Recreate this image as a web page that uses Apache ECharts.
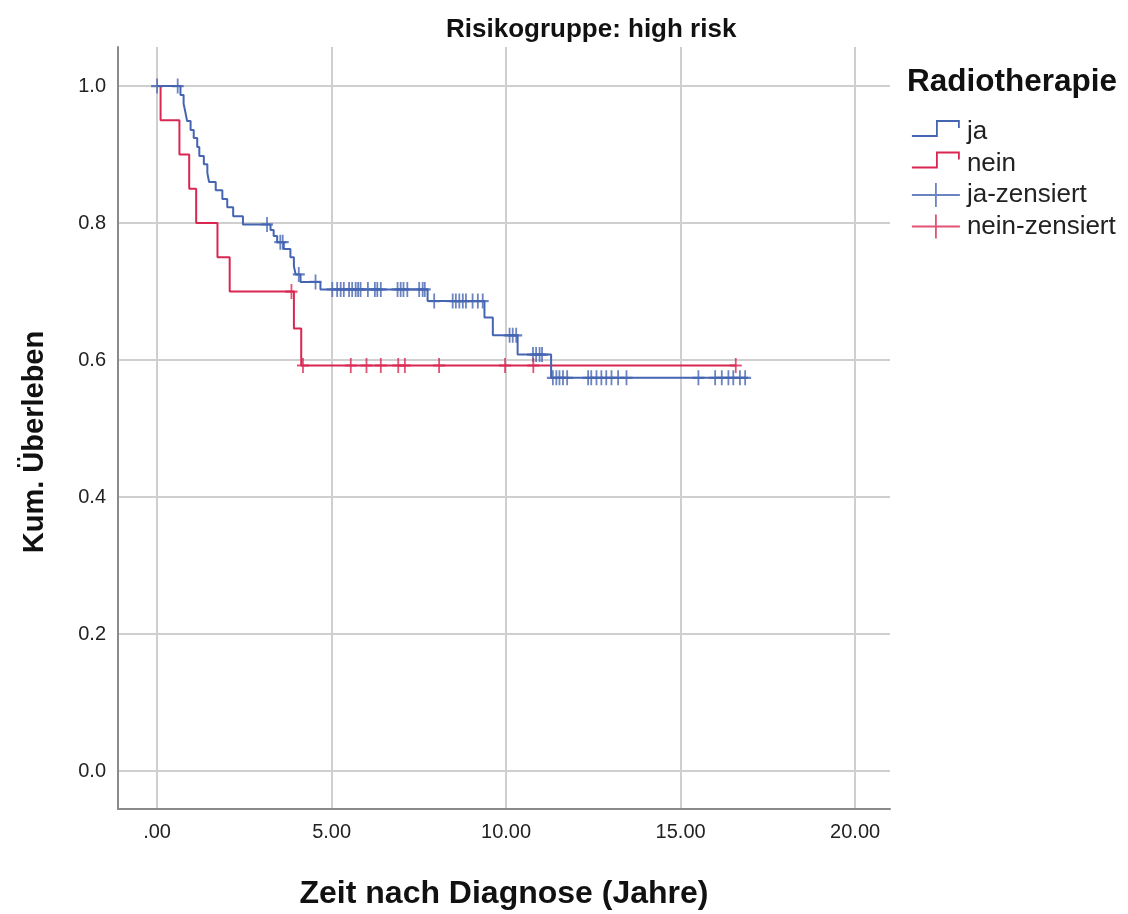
<!DOCTYPE html>
<html>
<head>
<meta charset="utf-8">
<script src="https://cdn.jsdelivr.net/npm/echarts@6/dist/echarts.min.js"></script>
<style>
  html, body { margin: 0; padding: 0; background: #fff; }
  #chart { width: 1128px; height: 914px; }
</style>
</head>
<body>
<div id="chart"></div>
<script>
// Kaplan-Meier estimates, high-risk group, split by radiotherapy (ja / nein)
const jaTime = [0, 0.67, 0.76, 0.81, 0.86, 0.96, 1.05, 1.15, 1.21, 1.34, 1.44, 1.49, 1.68, 1.87, 2.01, 2.18, 2.46,
  3.25, 3.34, 3.44, 3.63, 3.82, 3.92, 3.97, 4.11, 4.68, 7.75, 9.38, 9.62, 10.33, 11.29, 16.94];
const jaSurv = [1.0, 0.987, 0.974, 0.962, 0.949, 0.936, 0.924, 0.911, 0.898, 0.886, 0.873, 0.860, 0.848, 0.835, 0.823, 0.810, 0.798,
  0.790, 0.781, 0.772, 0.762, 0.750, 0.737, 0.725, 0.714, 0.703, 0.686, 0.662, 0.636, 0.608, 0.574, 0.574];

const neinTime = [0, 0.10, 0.64, 0.92, 1.12, 1.73, 2.08, 3.92, 4.13, 16.6];
const neinSurv = [1.0, 0.95, 0.90, 0.85, 0.80, 0.75, 0.70, 0.646, 0.592, 0.592];

// censoring times (marked with +)
const jaCensorTime = [0, 0.59, 3.15, 3.53, 3.60, 4.06, 4.54,
  5.02, 5.16, 5.26, 5.35, 5.50, 5.59, 5.69, 5.76, 5.83, 6.04, 6.24, 6.31, 6.41, 6.89, 6.98, 7.06, 7.17, 7.51, 7.61, 7.67,
  7.94, 8.47, 8.56, 8.66, 8.76, 8.85, 9.04, 9.19, 9.33,
  10.10, 10.19, 10.29, 10.77, 10.86, 10.96, 11.03,
  11.34, 11.44, 11.53, 11.63, 11.75, 12.35, 12.44, 12.59, 12.73, 12.87, 13.02, 13.21, 13.45,
  15.51, 15.99, 16.18, 16.37, 16.51, 16.70, 16.85];
const neinCensorTime = [3.85, 4.18, 5.55, 6.00, 6.41, 6.91, 7.10, 8.08, 9.97, 10.78, 16.58];

const xTicks = [0, 5, 10, 15, 20];
const yTicks = [0, 0.2, 0.4, 0.6, 0.8, 1.0];

const BLUE = '#4565b2';
const RED = '#d92752';
const PLUS = 'path://M0,10L20,10M10,0L10,20';
// legend glyphs: a small step and a censoring cross (box 50 x 24)
const STEP_ICON = 'path://M0,0M0,16L25,16L25,1L47,1L47,8M50,24';
const PLUS_ICON = 'path://M0,0M0,12L48,12M24,0L24,24M50,24';

function stepValue(times, surv, t) {
  let s = surv[0];
  for (let i = 0; i < times.length; i++) {
    if (times[i] <= t) s = surv[i];
  }
  return s;
}

const jaLine = jaTime.map((t, i) => [t, jaSurv[i]]);
const neinLine = neinTime.map((t, i) => [t, neinSurv[i]]);
const jaCensor = jaCensorTime.map(t => [t, stepValue(jaTime, jaSurv, t)]);
const neinCensor = neinCensorTime.map(t => [t, stepValue(neinTime, neinSurv, t)]);

const chart = echarts.init(document.getElementById('chart'), null, { renderer: 'canvas' });

const FONT = 'Liberation Sans, Arial, sans-serif';

chart.setOption({
  animation: false,
  backgroundColor: '#ffffff',
  textStyle: { fontFamily: FONT },
  title: [
    {
      text: 'Risikogruppe: high risk',
      left: 441, top: 12,
      textStyle: { fontSize: 26, fontWeight: 'bold', color: '#111', fontFamily: FONT }
    },
    {
      text: 'Radiotherapie',
      left: 902, top: 61,
      textStyle: { fontSize: 31.5, fontWeight: 'bold', color: '#111', fontFamily: FONT }
    }
  ],
  graphic: [
    {
      type: 'text',
      x: 35, y: 442, rotation: Math.PI / 2,
      style: {
        text: 'Kum. Überleben', align: 'center', verticalAlign: 'middle',
        font: 'bold 29px ' + FONT, fill: '#111'
      }
    }
  ],
  legend: {
    orient: 'vertical',
    left: 906, top: 114,
    itemWidth: 50, itemHeight: 24, itemGap: 5.5,
    symbolKeepAspect: false,
    textStyle: { fontSize: 26, color: '#222', fontFamily: FONT },
    data: [
      { name: 'ja', icon: STEP_ICON,
        itemStyle: { color: 'rgba(0,0,0,0)', borderColor: BLUE, borderWidth: 1.8 } },
      { name: 'nein', icon: STEP_ICON,
        itemStyle: { color: 'rgba(0,0,0,0)', borderColor: RED, borderWidth: 1.8 } },
      { name: 'ja-zensiert', icon: PLUS_ICON,
        itemStyle: { color: 'rgba(0,0,0,0)', borderColor: BLUE, borderWidth: 1.8 } },
      { name: 'nein-zensiert', icon: PLUS_ICON,
        itemStyle: { color: 'rgba(0,0,0,0)', borderColor: RED, borderWidth: 1.8 } }
    ]
  },
  grid: { left: 118, right: 238, top: 47, bottom: 105, containLabel: false, outerBoundsMode: 'none' },
  xAxis: {
    type: 'value',
    min: -1.12, max: 21.0,
    name: 'Zeit nach Diagnose (Jahre)',
    nameLocation: 'middle', nameGap: 69,
    nameTextStyle: { fontSize: 32, fontWeight: 'bold', color: '#111', fontFamily: FONT },
    axisLine: { show: true, onZero: false, lineStyle: { color: '#8a8a8a', width: 2 } },
    axisTick: { show: false, customValues: xTicks },
    axisLabel: {
      customValues: xTicks, margin: 13, fontSize: 20, color: '#222', fontFamily: FONT,
      formatter: v => (v === 0 ? '.00' : v.toFixed(2))
    },
    splitLine: { show: true, lineStyle: { color: '#cfcfcf', width: 2 } }
  },
  yAxis: {
    type: 'value',
    min: -0.0555, max: 1.057,
    axisLine: { show: true, onZero: false, lineStyle: { color: '#8a8a8a', width: 2 } },
    axisTick: { show: false, customValues: yTicks },
    axisLabel: {
      customValues: yTicks, margin: 12, fontSize: 20, color: '#222', fontFamily: FONT,
      formatter: v => v.toFixed(1)
    },
    splitLine: { show: true, lineStyle: { color: '#cfcfcf', width: 2 } }
  },
  series: [
    {
      name: 'nein', type: 'line', step: 'end', data: neinLine,
      showSymbol: false, symbol: 'none',
      lineStyle: { color: RED, width: 2 }, itemStyle: { color: RED }, z: 2
    },
    {
      name: 'ja', type: 'line', step: 'end', data: jaLine,
      showSymbol: false, symbol: 'none',
      lineStyle: { color: BLUE, width: 2 }, itemStyle: { color: BLUE }, z: 3
    },
    {
      name: 'ja-zensiert', type: 'scatter', data: jaCensor,
      symbol: PLUS, symbolSize: [12, 15],
      itemStyle: { color: 'rgba(0,0,0,0)', borderColor: BLUE, borderWidth: 2 }, z: 4
    },
    {
      name: 'nein-zensiert', type: 'scatter', data: neinCensor,
      symbol: PLUS, symbolSize: [12, 15],
      itemStyle: { color: 'rgba(0,0,0,0)', borderColor: RED, borderWidth: 2 }, z: 4
    }
  ]
});
</script>
</body>
</html>
